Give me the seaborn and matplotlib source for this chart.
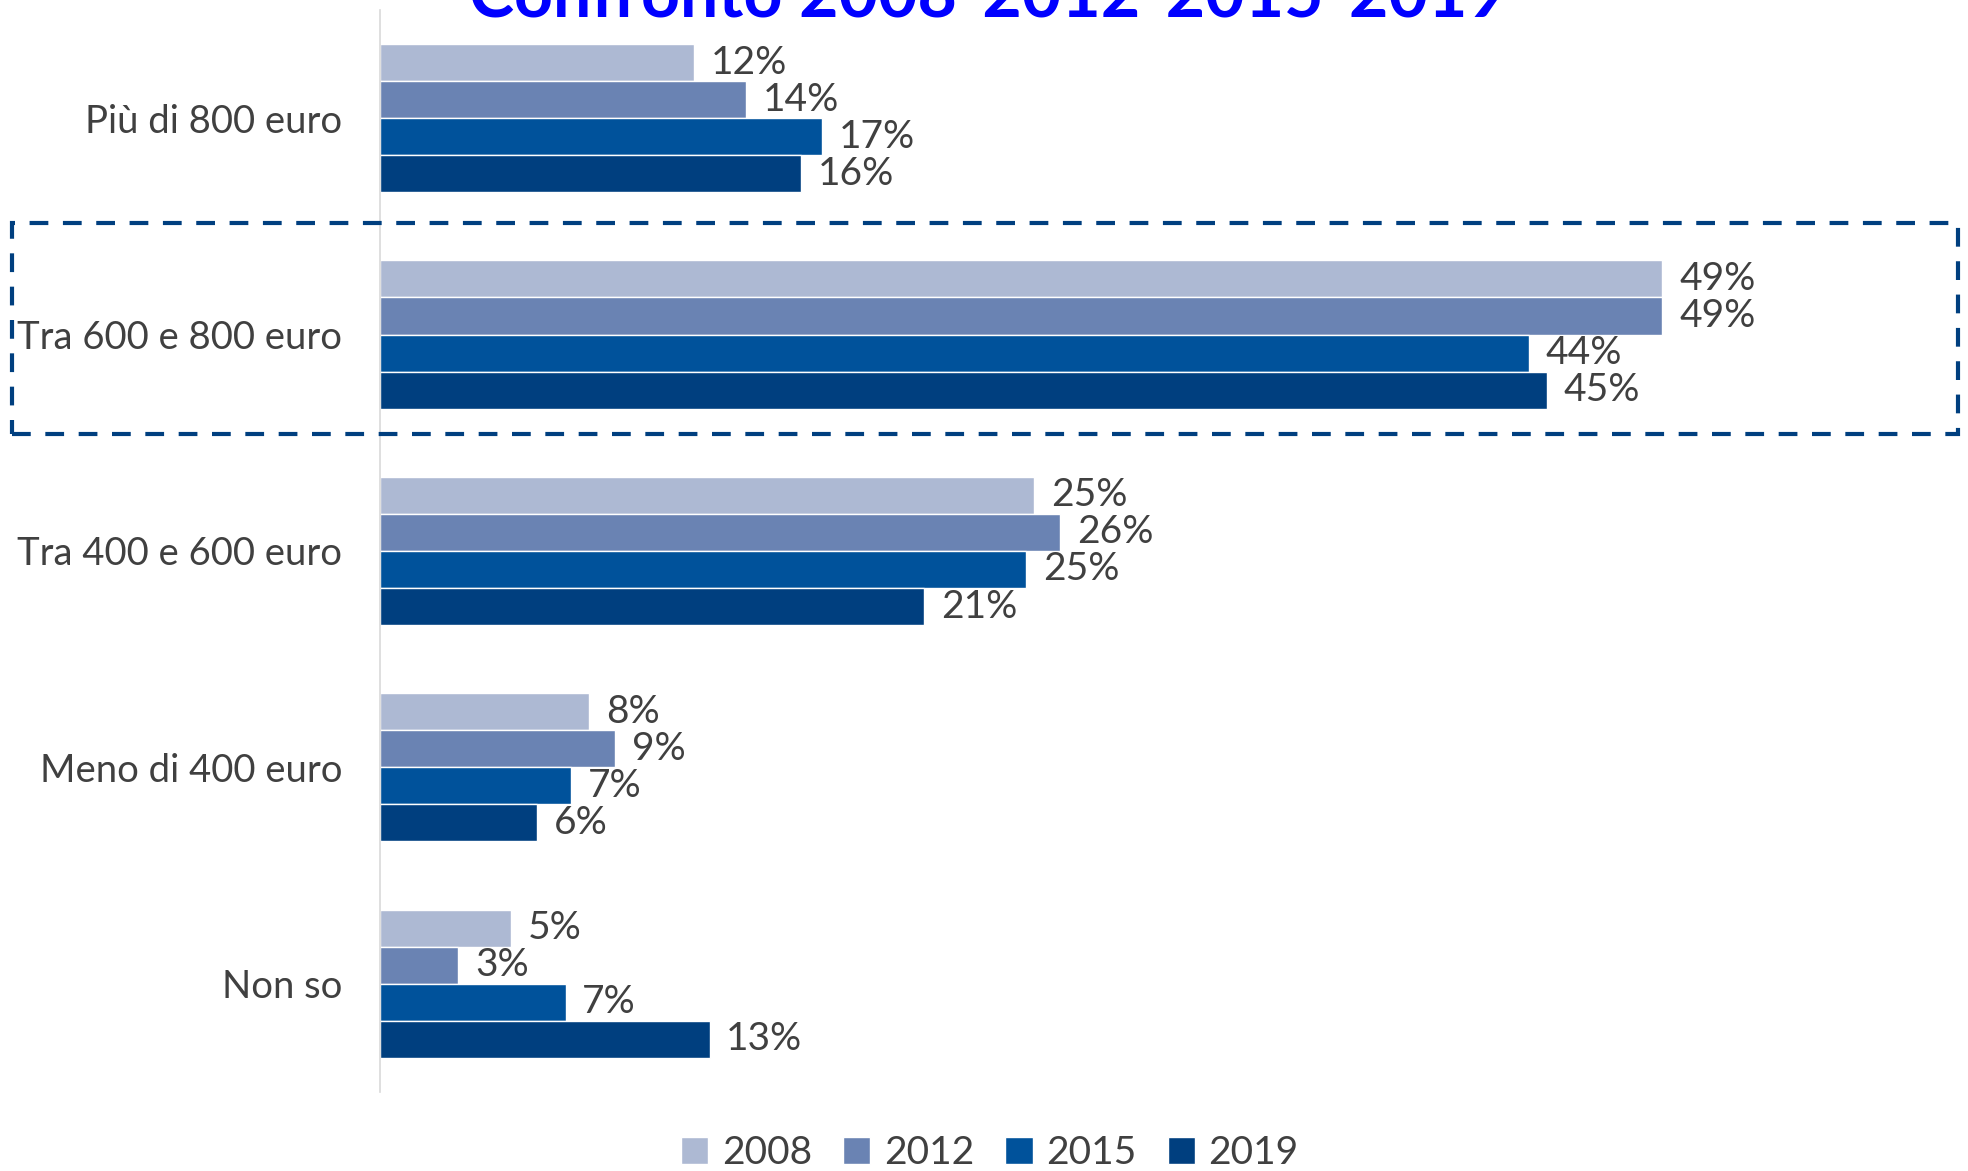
import pandas as pd
import matplotlib.pyplot as plt
import seaborn as sns
from matplotlib.patches import Rectangle

# %%
categories = ["Più di 800 euro", "Tra 600 e 800 euro", "Tra 400 e 600 euro",
              "Meno di 400 euro", "Non so"]
years = ["2008", "2012", "2015", "2019"]
v2008 = [12.0, 49.0, 25.0, 8.0, 5.0]
v2012 = [14.0, 49.0, 26.0, 9.0, 3.0]
v2015 = [16.9, 43.9, 24.7, 7.3, 7.1]
v2019 = [16.1, 44.6, 20.8, 6.0, 12.6]
colors = ["#ADB9D3", "#6A83B3", "#00529B", "#003F7F"]

rows = []
for year, vals in zip(years, [v2008, v2012, v2015, v2019]):
    for cat, v in zip(categories, vals):
        rows.append({"categoria": cat, "anno": year, "valore": v})
df = pd.DataFrame(rows)

# %%
sns.set_style("white")
plt.rcParams['font.family'] = ['Lato', 'DejaVu Sans']
text_col = "#404040"

fig = plt.figure(figsize=(19.68, 11.71), dpi=100)
ax = fig.add_axes([0.193, 0.0675, 0.798, 0.924])

sns.barplot(data=df, y="categoria", x="valore", hue="anno", order=categories,
            hue_order=years, palette=colors, saturation=1, orient="h",
            width=0.685, edgecolor="white", linewidth=1, legend=True, ax=ax)

for cont in ax.containers:
    ax.bar_label(cont, fmt=lambda v: f"{v:.0f}%", padding=12,
                 fontsize=28, color=text_col)

ax.set_xlim(0, 60)
ax.set_ylim(4.5, -0.5)
ax.set_xlabel("")
ax.set_ylabel("")
ax.set_xticks([])
ax.tick_params(axis="y", length=0, pad=27, labelsize=27.5, labelcolor=text_col)
for s in ["top", "right", "bottom"]:
    ax.spines[s].set_visible(False)
ax.spines["left"].set_color("#D9D9D9")
ax.spines["left"].set_linewidth(1.2)

# legend at bottom
handles, labels = ax.get_legend_handles_labels()
ax.legend_.remove()
fig.legend(handles, labels, loc="lower center", bbox_to_anchor=(0.503, -0.03),
           ncol=4, frameon=False, fontsize=28, labelcolor=text_col,
           handlelength=0.7, handleheight=0.7, handletextpad=0.35,
           columnspacing=0.8)

# highlight box around "Tra 600 e 800 euro"
fig.patches.append(Rectangle((0.006, 1 - 434 / 1171), 0.989, (434 - 223) / 1171,
                             transform=fig.transFigure, fill=False,
                             edgecolor="#003F7F", linewidth=3,
                             linestyle=(0, (4.5, 3.5))))

# title, cut off at the top like in the original
fig.text(0.502, 1 - 17 / 1171, "Confronto 2008-2012-2015-2019", ha="center",
         va="baseline", fontsize=49, fontweight="bold", color="#0000FF")

fig.savefig("out.png", dpi=100)
